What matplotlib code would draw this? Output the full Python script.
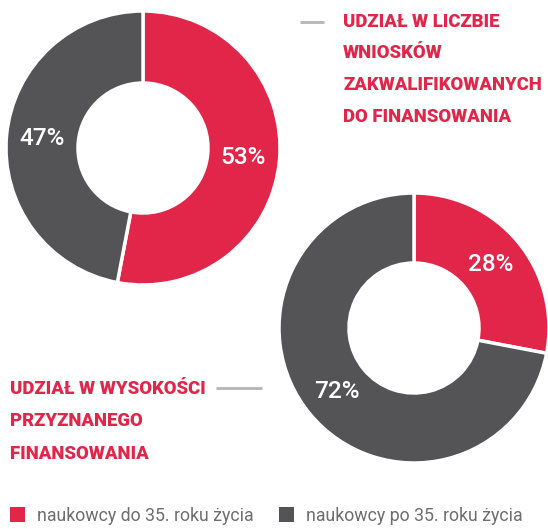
import matplotlib
matplotlib.use("Agg")
import matplotlib.pyplot as plt

# Shares of young vs. older researchers
series_labels = ["naukowcy do 35. roku życia", "naukowcy po 35. roku życia"]
share_applications = [53, 47]
share_funding = [28, 72]
title_applications = ["UDZIAŁ W LICZBIE", "WNIOSKÓW", "ZAKWALIFIKOWANYCH", "DO FINANSOWANIA"]
title_funding = ["UDZIAŁ W WYSOKOŚCI", "PRZYZNANEGO", "FINANSOWANIA"]

RED = "#e2264a"
GRAY = "#545456"
colors = [RED, GRAY]

W, H = 548, 529
plt.rcParams["font.family"] = ["Roboto", "DejaVu Sans"]
fig = plt.figure(figsize=(W / 100, H / 100), dpi=100)
ax = fig.add_axes([0, 0, 1, 1])


def donut(values, center, radius, hole):
    width = radius - hole
    ax.pie(
        values, colors=colors, startangle=90, counterclock=False,
        center=center, radius=radius, autopct=lambda p: f"{p:.0f}%",
        pctdistance=(radius - width / 2) / radius,
        wedgeprops=dict(width=width, edgecolor="white", linewidth=2.5),
        textprops=dict(color="white", fontsize=17.5, fontweight="medium"),
    )


donut(share_applications, (143, H - 148), 137, 65)
donut(share_funding, (414, H - 328), 135, 65)
ax.set_xlim(0, W)
ax.set_ylim(0, H)
ax.set_aspect("equal")
ax.axis("off")

# Section titles with leader lines
for i, line in enumerate(title_applications):
    ax.text(343, H - 22 - i * 31.5, line, color=RED, fontsize=13.3,
            fontweight="heavy", va="center", ha="left")
ax.plot([300, 324], [H - 22, H - 22], color="#b5b5b5", lw=2, solid_capstyle="butt")

for i, line in enumerate(title_funding):
    ax.text(10, H - 389 - i * 32.5, line, color=RED, fontsize=13.3,
            fontweight="heavy", va="center", ha="left")
ax.plot([216, 262], [H - 388, H - 388], color="#b5b5b5", lw=2, solid_capstyle="butt")

# Legend
legend_x = [10, 279]
for x, c, lab in zip(legend_x, colors, series_labels):
    ax.add_patch(plt.Rectangle((x, H - 522), 15, 15, color=c, lw=0))
    ax.text(x + 27, H - 516, lab, color="#6e6e6e", fontsize=12.8,
            fontweight="normal", va="center", ha="left")

fig.savefig("out.png", dpi=100)
